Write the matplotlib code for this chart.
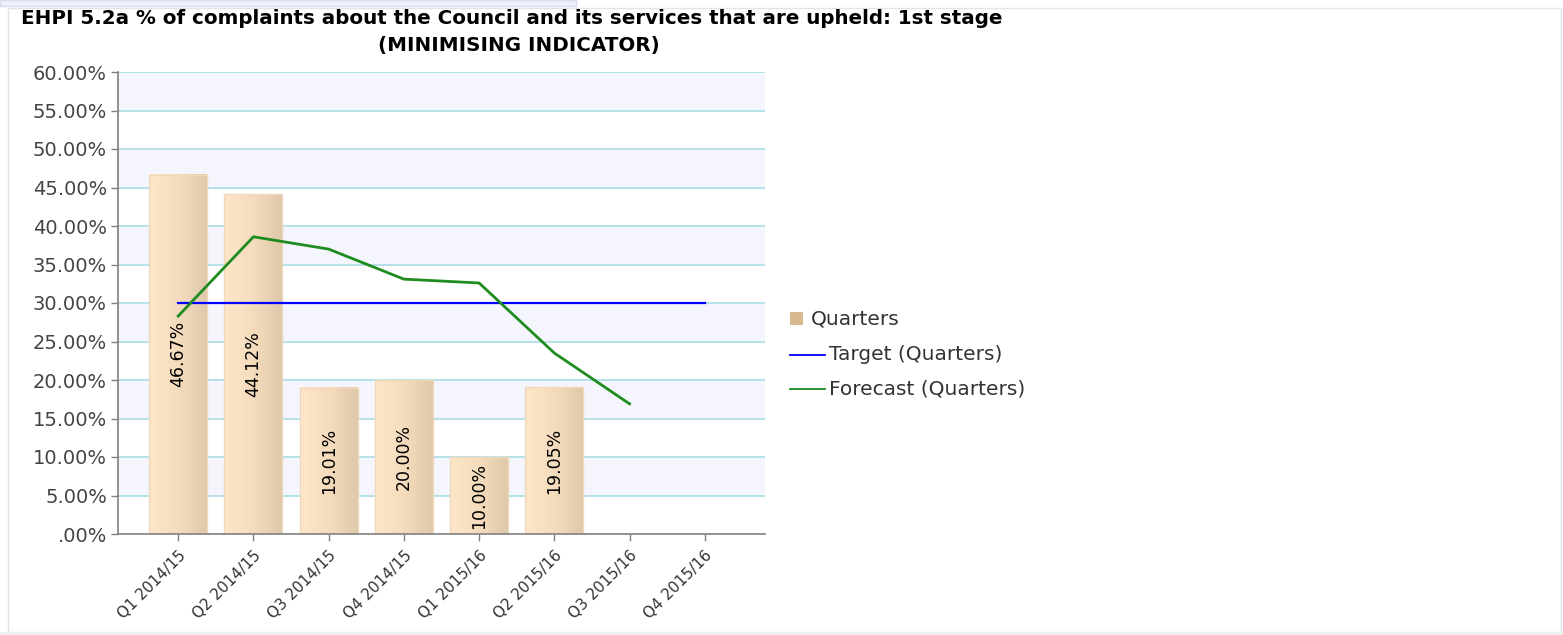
import numpy as np
import matplotlib
matplotlib.use("Agg")
import matplotlib.pyplot as plt
import matplotlib.transforms as mtransforms
from matplotlib.colors import LinearSegmentedColormap
from matplotlib.patches import Rectangle
from matplotlib.lines import Line2D
from matplotlib.ticker import MultipleLocator, FuncFormatter

categories = ["Q1 2014/15", "Q2 2014/15", "Q3 2014/15", "Q4 2014/15",
              "Q1 2015/16", "Q2 2015/16", "Q3 2015/16", "Q4 2015/16"]
quarters = [46.67, 44.12, 19.01, 20.00, 10.00, 19.05, None, None]
target = [30, 30, 30, 30, 30, 30, 30, 30]
forecast = [28.3, 38.6, 37.0, 33.1, 32.6, 23.5, 16.9, None]
legend_labels = ["Quarters", "Target (Quarters)", "Forecast (Quarters)"]

title_lines = ["EHPI 5.2a % of complaints about the Council and its services that are upheld: 1st stage",
               "(MINIMISING INDICATOR)"]

W, H = 1563, 635
fig = plt.figure(figsize=(W / 100, H / 100), dpi=100)
fig.patch.set_facecolor("white")


def px(xp, yp):
    return xp / W, 1 - yp / H


# outer frame
fig.add_artist(Rectangle((8 / W, 3 / H), (W - 10) / W, (H - 11) / H, transform=fig.transFigure,
                         fill=False, edgecolor="#e4e4e4", linewidth=1))
fig.add_artist(Rectangle((0, (H - 6) / H), 576 / W, 6 / H, transform=fig.transFigure,
                         facecolor="#eef0fa", edgecolor="#d8dbef", linewidth=1))
fig.add_artist(Rectangle((0, 0), 1, 3 / H, transform=fig.transFigure,
                         facecolor="#f0f0f0", edgecolor="none"))

ax = fig.add_axes([118 / W, 101 / H, 647 / W, 462 / H])
x = np.arange(len(categories))

# alternating bands
for k in range(12):
    if k % 2 == 1:
        ax.axhspan(5 * k, 5 * k + 5, color="#f5f6fd", zorder=0, linewidth=0)
for k in range(1, 13):
    ax.axhline(5 * k, color="#a9dde6", linewidth=1.2, zorder=1)

cmap = LinearSegmentedColormap.from_list("tan", ["#fde6c9", "#f5dcbd", "#dfc9ab"])
grad = np.linspace(0, 1, 64).reshape(1, -1)
bw = 0.77
for xi, v in zip(x, quarters):
    if v is None:
        continue
    ax.imshow(grad, cmap=cmap, extent=[xi - bw / 2, xi + bw / 2, 0, v],
              aspect="auto", zorder=2, interpolation="bilinear")
    ax.add_patch(Rectangle((xi - bw / 2, 0), bw, v, fill=False, edgecolor="#f0d9bb",
                           linewidth=1, zorder=2.5))
    ax.text(xi, v / 2, f"{v:.2f}%", rotation=90, ha="center", va="center",
            fontsize=12.5, color="black", zorder=5)
ax.set_xlim(-0.8, len(categories) - 0.2)
ax.set_ylim(0, 60)

tx = [xi for xi, v in zip(x, target) if v is not None]
ty = [v for v in target if v is not None]
ax.plot(tx, ty, color="#0000ff", linewidth=1.6, zorder=3)
fx = [xi for xi, v in zip(x, forecast) if v is not None]
fy = [v for v in forecast if v is not None]
ax.plot(fx, fy, color="#1e8c1e", linewidth=2, zorder=4)

ax.yaxis.set_major_locator(MultipleLocator(5))
ax.yaxis.set_major_formatter(FuncFormatter(lambda v, p: ".00%" if v == 0 else f"{v:.2f}%"))
ax.set_xticks(x)
ax.set_xticklabels(categories, rotation=45, ha="right", va="top", rotation_mode="anchor",
                   fontsize=11, color="#333333")
offset = mtransforms.ScaledTranslation(10 / 100, 0, fig.dpi_scale_trans)
for lab in ax.get_xticklabels():
    lab.set_transform(lab.get_transform() + offset)
for lab in ax.get_yticklabels():
    lab.set_fontsize(14)
    lab.set_color("#444444")
ax.tick_params(axis="y", length=5, width=1, color="#808080", pad=3)
ax.tick_params(axis="x", length=5, width=1, color="#808080", pad=5)
for s in ["top", "right"]:
    ax.spines[s].set_visible(False)
for s in ["left", "bottom"]:
    ax.spines[s].set_color("#808080")
    ax.spines[s].set_linewidth(1.2)

fig.text(*px(512, 18), title_lines[0], ha="center", va="center", fontsize=14.3, fontweight="bold")
fig.text(*px(519, 46), title_lines[1], ha="center", va="center", fontsize=14.3, fontweight="bold")

# legend drawn in figure pixel coordinates
fig.add_artist(Rectangle(px(790, 325), 13 / W, 13 / H, transform=fig.transFigure,
                         facecolor="#d6b98f", edgecolor="none"))
fig.text(*px(811, 319), legend_labels[0], ha="left", va="center", fontsize=14.5, color="#333333")
for yy, col, lab in [(355, "#0000ff", legend_labels[1]), (389, "#1e8c1e", legend_labels[2])]:
    x0, y0 = px(790, yy)
    x1, _ = px(825, yy)
    fig.add_artist(Line2D([x0, x1], [y0, y0], transform=fig.transFigure, color=col, linewidth=1.3))
    fig.text(*px(829, yy), lab, ha="left", va="center", fontsize=14.5, color="#333333")

fig.savefig("out.png", dpi=100)
